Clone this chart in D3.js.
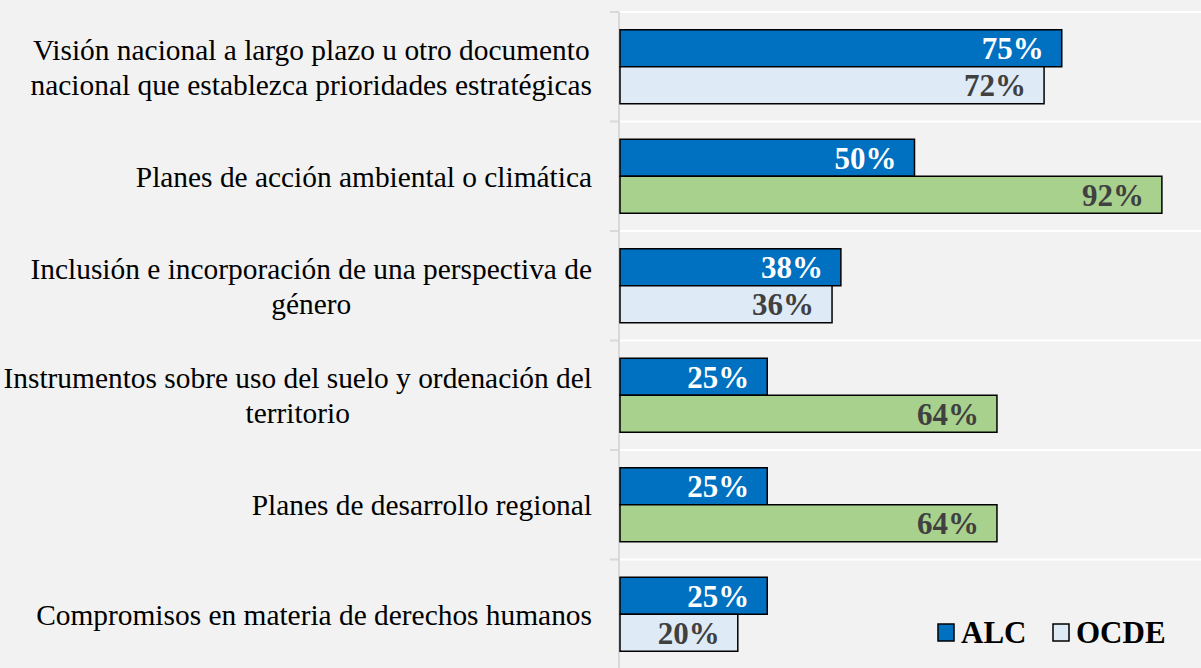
<!DOCTYPE html>
<html>
<head>
<meta charset="utf-8">
<script src="https://cdn.jsdelivr.net/npm/d3@7"></script>
<style>
  html, body { margin: 0; padding: 0; background: #f2f2f2; }
  svg { display: block; }
  .cat-label { font-family: "Liberation Serif", "Times New Roman", serif; font-size: 29.4px; fill: #000; }
  .bar-label { font-family: "Liberation Serif", "Times New Roman", serif; font-size: 31px; font-weight: bold; }
  .legend-text { font-family: "Liberation Serif", "Times New Roman", serif; font-size: 31px; font-weight: bold; fill: #000; }
</style>
</head>
<body>
<svg id="chart"></svg>
<script>
// Data
const categories = [
  ['Visión nacional a largo plazo u otro documento', 'nacional que establezca prioridades estratégicas'],
  ['Planes de acción ambiental o climática'],
  ['Inclusión e incorporación de una perspectiva de', 'género'],
  ['Instrumentos sobre uso del suelo y ordenación del', 'territorio'],
  ['Planes de desarrollo regional'],
  ['Compromisos en materia de derechos humanos']
];
const alcValues = [75, 50, 37.5, 25, 25, 25];
const ocdeValues = [72, 92, 36, 64, 64, 20];
// categories where the OCDE bar is highlighted in green
const highlighted = [
  'Planes de acción ambiental o climática',
  'Instrumentos sobre uso del suelo y ordenación del territorio',
  'Planes de desarrollo regional'
];
const seriesNames = ['ALC', 'OCDE'];

const width = 1201, height = 668;
const margin = {top: 12, right: 0, bottom: -1, left: 620};

const colors = {ALC: '#0070c0', OCDE: '#deeaf6', green: '#a9d18e'};
const labelColors = {ALC: '#ffffff', OCDE: '#404040'};

const keys = categories.map(c => c.join(' '));
const data = keys.map((k, i) => ({
  key: k,
  lines: categories[i],
  values: [
    {series: 'ALC', value: alcValues[i]},
    {series: 'OCDE', value: ocdeValues[i], green: highlighted.includes(k)}
  ]
}));

const svg = d3.select('#chart')
  .attr('width', width)
  .attr('height', height);

svg.append('rect')
  .attr('width', width).attr('height', height)
  .attr('fill', '#f2f2f2');

const x = d3.scaleLinear()
  .domain([0, 100])
  .range([margin.left, margin.left + 589]);

const y = d3.scaleBand()
  .domain(keys)
  .range([margin.top, height - margin.bottom])
  .paddingInner(0)
  .paddingOuter(0);

const ySub = d3.scaleBand()
  .domain(seriesNames)
  .range([0, y.bandwidth()])
  .paddingInner(0)
  .paddingOuter(0.48);

// Gridlines at category boundaries
const bounds = keys.map(k => y(k));
svg.append('g')
  .selectAll('line')
  .data(bounds)
  .join('line')
    .attr('x1', x(0))
    .attr('x2', width)
    .attr('y1', d => d)
    .attr('y2', d => d)
    .attr('stroke', '#ffffff')
    .attr('stroke-width', 2);

// Category axis with ticks between categories
const axisG = svg.append('g');
axisG.append('line')
  .attr('x1', x(0) - 1).attr('x2', x(0) - 1)
  .attr('y1', margin.top).attr('y2', height)
  .attr('stroke', '#d9d9d9')
  .attr('stroke-width', 2);
axisG.selectAll('.tick')
  .data(bounds)
  .join('line')
    .attr('class', 'tick')
    .attr('x1', x(0) - 10).attr('x2', x(0) - 1)
    .attr('y1', d => d).attr('y2', d => d)
    .attr('stroke', '#d9d9d9')
    .attr('stroke-width', 2);

// Category labels (lines centred, block right-aligned)
const labelRight = x(0) - 28;
const lineGap = 35;
const catG = svg.append('g');
data.forEach(d => {
  const cy = y(d.key) + y.bandwidth() / 2;
  const t = catG.append('text')
    .attr('class', 'cat-label')
    .attr('text-anchor', 'middle');
  const n = d.lines.length;
  const spans = d.lines.map((line, j) =>
    t.append('tspan')
      .attr('y', cy + (j - (n - 1) / 2) * lineGap)
      .attr('dy', '0.35em')
      .text(line));
  const maxW = d3.max(spans, s => s.node().getComputedTextLength());
  spans.forEach(s => s.attr('x', labelRight - maxW / 2));
});

// Bars
const groups = svg.append('g')
  .selectAll('g')
  .data(data)
  .join('g')
    .attr('transform', d => `translate(0,${y(d.key)})`);

groups.selectAll('rect')
  .data(d => d.values)
  .join('rect')
    .attr('x', x(0))
    .attr('y', d => ySub(d.series))
    .attr('width', d => x(d.value) - x(0))
    .attr('height', ySub.bandwidth())
    .attr('fill', d => d.green ? colors.green : colors[d.series])
    .attr('stroke', '#000')
    .attr('stroke-width', 1.5);

groups.selectAll('.bar-label')
  .data(d => d.values)
  .join('text')
    .attr('class', 'bar-label')
    .attr('x', d => x(d.value) - 18)
    .attr('y', d => ySub(d.series) + ySub.bandwidth() / 2)
    .attr('dy', '0.35em')
    .attr('text-anchor', 'end')
    .attr('fill', d => labelColors[d.series])
    .text(d => Math.round(d.value) + '%');

// Legend
const legend = svg.append('g')
  .attr('transform', 'translate(938,624)');
const legendX = [0, 115];
seriesNames.forEach((s, i) => {
  const g = legend.append('g').attr('transform', `translate(${legendX[i]},0)`);
  g.append('rect')
    .attr('width', 16).attr('height', 17)
    .attr('fill', colors[s])
    .attr('stroke', '#000')
    .attr('stroke-width', 1.5);
  g.append('text')
    .attr('class', 'legend-text')
    .attr('x', 23)
    .attr('y', 19)
    .text(s);
});
</script>
</body>
</html>
